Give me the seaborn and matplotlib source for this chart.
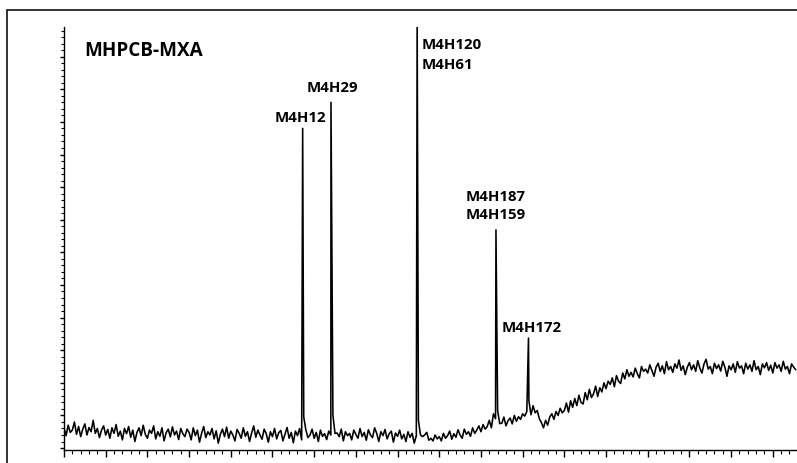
import numpy as np
import matplotlib
matplotlib.use("Agg")
import matplotlib.pyplot as plt
import seaborn as sns
from matplotlib.patches import Rectangle

# detector signal, one reading every 0.05 min from 0.00 to 17.55 (peak apexes listed apart)
baseline = [
    0.62, 0.38, 0.70, 0.48, 0.55, 0.80, 0.42, 0.66, 0.35, 0.58, 0.74, 0.40, 0.63, 0.50, 0.85, 0.45, 0.60, 0.32, 0.55, 0.68,
    0.40, 0.57, 0.30, 0.62, 0.45, 0.72, 0.36, 0.52, 0.25, 0.60, 0.44, 0.66, 0.33, 0.55, 0.20, 0.48, 0.62, 0.38, 0.70, 0.42,
    0.30, 0.55, 0.45, 0.68, 0.28, 0.50, 0.36, 0.62, 0.22, 0.47, 0.58, 0.34, 0.65, 0.40, 0.52, 0.26, 0.60, 0.44, 0.35, 0.58,
    0.48, 0.25, 0.62, 0.38, 0.55, 0.18, 0.45, 0.66, 0.32, 0.50, 0.40, 0.60, 0.28, 0.53, 0.15, 0.42, 0.58, 0.35, 0.64, 0.30,
    0.52, 0.40, 0.22, 0.57, 0.45, 0.30, 0.62, 0.36, 0.50, 0.20, 0.46, 0.68, 0.33, 0.55, 0.40, 0.27, 0.58, 0.44, 0.18, 0.50,
    0.35, 0.60, 0.28, 0.47, 0.54, 0.22, 0.42, 0.63, 0.30, 0.48, 0.16, 0.52, 0.38, 0.60, 0.25, 0.95, 0.56, 0.32, 0.40, 0.58,
    0.30, 0.48, 0.20, 0.55, 0.36, 0.44, 0.26, 0.52, 0.40, 1.00, 0.45, 0.46, 0.35, 0.58, 0.22, 0.50, 0.38, 0.45, 0.25, 0.55,
    0.42, 0.30, 0.60, 0.35, 0.48, 0.24, 0.56, 0.40, 0.32, 0.62, 0.45, 0.20, 0.50, 0.38, 0.57, 0.28, 0.44, 0.52, 0.18, 0.46,
    0.36, 0.55, 0.28, 0.42, 0.20, 0.50, 0.33, 0.45, 0.15, 0.38, 0.85, 0.40, 0.35, 0.40, 0.48, 0.24, 0.30, 0.22, 0.40, 0.28,
    0.35, 0.22, 0.45, 0.30, 0.38, 0.52, 0.27, 0.44, 0.33, 0.56, 0.40, 0.30, 0.58, 0.42, 0.50, 0.36, 0.62, 0.45, 0.55, 0.68,
    0.50, 0.72, 0.58, 0.66, 0.85, 0.62, 1.05, 0.90, 1.15, 0.75, 0.76, 0.95, 0.68, 0.84, 0.92, 0.74, 1.00, 0.82, 0.96, 0.88,
    1.05, 0.98, 1.12, 1.45, 1.02, 1.30, 1.08, 1.15, 0.90, 0.78, 0.62, 0.85, 0.70, 0.95, 1.05, 0.88, 1.12, 1.00, 1.22, 1.08,
    1.15, 1.38, 1.10, 1.45, 1.25, 1.52, 1.30, 1.62, 1.40, 1.35, 1.70, 1.48, 1.80, 1.55, 1.66, 1.90, 1.58, 1.85, 1.72, 2.00,
    1.82, 2.05, 1.95, 2.15, 1.88, 2.22, 2.05, 1.98, 2.30, 2.12, 2.40, 2.20, 2.32, 2.18, 2.45, 2.28, 2.15, 2.50, 2.35, 2.42,
    2.30, 2.55, 2.38, 2.20, 2.48, 2.60, 2.35, 2.52, 2.28, 2.65, 2.40, 2.50, 2.32, 2.58, 2.45, 2.70, 2.38, 2.52, 2.25, 2.48,
    2.62, 2.40, 2.55, 2.35, 2.68, 2.45, 2.30, 2.58, 2.72, 2.42, 2.50, 2.28, 2.60, 2.44, 2.55, 2.36, 2.66, 2.48, 2.20, 2.52,
    2.40, 2.58, 2.32, 2.65, 2.45, 2.52, 2.28, 2.60, 2.42, 2.55, 2.35, 2.68, 2.40, 2.50, 2.25, 2.58, 2.46, 2.62, 2.38, 2.54,
    2.30, 2.62, 2.45, 2.55, 2.35, 2.66, 2.42, 2.50, 2.28, 2.58, 2.48, 2.40,
]
baseline_t = np.round(np.arange(len(baseline)) * 0.05, 3)

# peak apexes
peak_t = [5.724, 6.403, 8.47, 10.36, 11.14]
peak_y = [9.8, 10.6, 13.2, 6.69, 3.37]

# peak labels
labels = ["M4H12", "M4H29", "M4H120", "M4H61", "M4H187", "M4H159", "M4H172"]
label_x = [5.66, 6.43, 8.585, 8.585, 10.36, 10.36, 11.22]
label_y = [10.12, 11.04, 12.36, 11.75, 7.70, 7.15, 3.68]
label_ha = ["center", "center", "left", "left", "center", "center", "center"]

t = np.concatenate([baseline_t, peak_t])
y = np.concatenate([baseline, peak_y])

sns.set_style("ticks")
plt.rcParams['font.family'] = ['Open Sans', 'DejaVu Sans']

fig = plt.figure(figsize=(7.97, 4.63), dpi=100)
ax = fig.add_axes([64 / 797, 13 / 463, 733 / 797, 423 / 463])

sns.lineplot(x=t, y=y, estimator=None, sort=True, color="black", lw=1.15, ax=ax)

ax.set_xlim(0, 17.58)
ax.set_ylim(-0.06, 12.91)
ax.set_xticks(np.arange(0, 18, 1))
ax.set_xticks(np.arange(0, 17.6, 0.2), minor=True)
ax.set_yticks(np.arange(0, 13, 1))
ax.set_yticks(np.arange(0, 12.9, 0.2), minor=True)
ax.tick_params(axis="x", which="major", length=5, width=1, color="black", labelbottom=False)
ax.tick_params(axis="x", which="minor", length=3, width=0.8, color="black")
ax.tick_params(axis="y", which="major", length=3, width=1, color="black", labelleft=False)
ax.tick_params(axis="y", which="minor", length=2, width=0.8, color="black")
sns.despine(ax=ax)
for s in ["left", "bottom"]:
    ax.spines[s].set_color("black")
    ax.spines[s].set_linewidth(1.0)
ax.set_xlabel("")
ax.set_ylabel("")

ax.text(0.48, 12.18, "MHPCB-MXA", fontsize=13.6, fontweight="bold", va="center", ha="left", color="black")
for lab, lx, ly, ha in zip(labels, label_x, label_y, label_ha):
    ax.text(lx, ly, lab, fontsize=10.8, fontweight="bold", va="center", ha=ha, color="black")

# frame around the whole figure
fig.patches.append(Rectangle((7 / 797, -0.1), 1.2, (1 - 10 / 463) + 0.1,
                             transform=fig.transFigure, fill=False,
                             edgecolor="#222222", lw=1.3))

fig.savefig("out.png", dpi=100)
